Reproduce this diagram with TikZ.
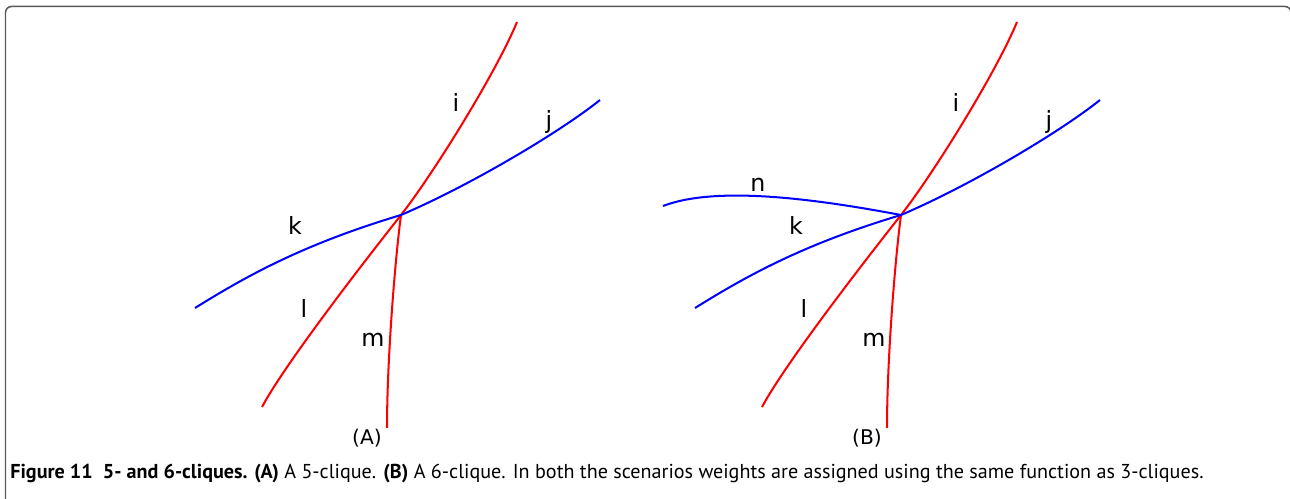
\documentclass[tikz,border=0pt]{standalone}
\usepackage{fontspec}
\setmainfont{DejaVu Sans}
\newfontfamily\capfont{PT Sans}

\begin{document}
\begin{tikzpicture}[x=0.2mm,y=-0.2mm,redwire/.style={draw=red,line width=1.15pt},bluewire/.style={draw=blue,line width=1.15pt},lbl/.style={font=\fontsize{13.5}{16}\selectfont,inner sep=0pt},tag/.style={font=\fontsize{11.5}{14}\selectfont,inner sep=0pt},caption/.style={anchor=base west,inner sep=0pt,font=\capfont\fontsize{11.45}{14}\selectfont}]
\useasboundingbox (0,0) rectangle (1290,499);
\draw[line width=0.85pt,draw=black!65,rounded corners=1.2mm] (5.5,510) -- (5.5,6.5) -- (1291,6.5) -- (1291,40);
% panel A
\coordinate (pa) at (401,215);
\coordinate (ia) at (517,22);
\coordinate (ja) at (600,100);
\coordinate (ka) at (195,308);
\coordinate (la) at (262,407);
\coordinate (ma) at (387,428);
\draw[redwire] (pa) .. controls +(30,-38) and +(-22,53) .. (ia);
\draw[redwire] (pa) .. controls +(-30,38) and +(24,-45) .. (la);
\draw[redwire] (pa) .. controls +(-6,45) and +(0,-68) .. (ma);
\draw[bluewire] (pa) .. controls +(70,-30) and +(-40,32) .. (ja);
\draw[bluewire] (pa) .. controls +(-100,30) and +(50,-31) .. (ka);
\node[lbl] (ilbla) at (456,102) {i};
\node[lbl] (jlbla) at (549,122) {j};
\node[lbl] (klbla) at (295,225) {k};
\node[lbl] (llbla) at (304,308) {l};
\node[lbl] (mlbla) at (373,340) {m};
\node[tag] (taga) at (367,438) {(A)};
% panel B
\coordinate (pb) at (901,215);
\coordinate (ib) at (1017,22);
\coordinate (jb) at (1100,100);
\coordinate (kb) at (695,308);
\coordinate (lb) at (762,407);
\coordinate (mb) at (887,428);
\coordinate (nb) at (663,206);
\draw[redwire] (pb) .. controls +(30,-38) and +(-22,53) .. (ib);
\draw[redwire] (pb) .. controls +(-30,38) and +(24,-45) .. (lb);
\draw[redwire] (pb) .. controls +(-6,45) and +(0,-68) .. (mb);
\draw[bluewire] (pb) .. controls +(70,-30) and +(-40,32) .. (jb);
\draw[bluewire] (pb) .. controls +(-100,30) and +(50,-31) .. (kb);
\draw[bluewire] (pb) .. controls +(-90,-17) and +(52,-20) .. (nb);
\node[lbl] (ilblb) at (956,102) {i};
\node[lbl] (jlblb) at (1049,122) {j};
\node[lbl] (klblb) at (796,225) {k};
\node[lbl] (llblb) at (804,308) {l};
\node[lbl] (mlblb) at (874,340) {m};
\node[lbl] (nlblb) at (758,185) {n};
\node[tag] (tagb) at (867,438) {(B)};
% caption
\node[caption] (cap) at (10,479) {\textbf{Figure 11\ \ 5- and 6-cliques. (A)} A 5-clique. \textbf{(B)} A 6-clique. In both the scenarios weights are assigned using the same function as 3-cliques.};
\end{tikzpicture}
\end{document}
